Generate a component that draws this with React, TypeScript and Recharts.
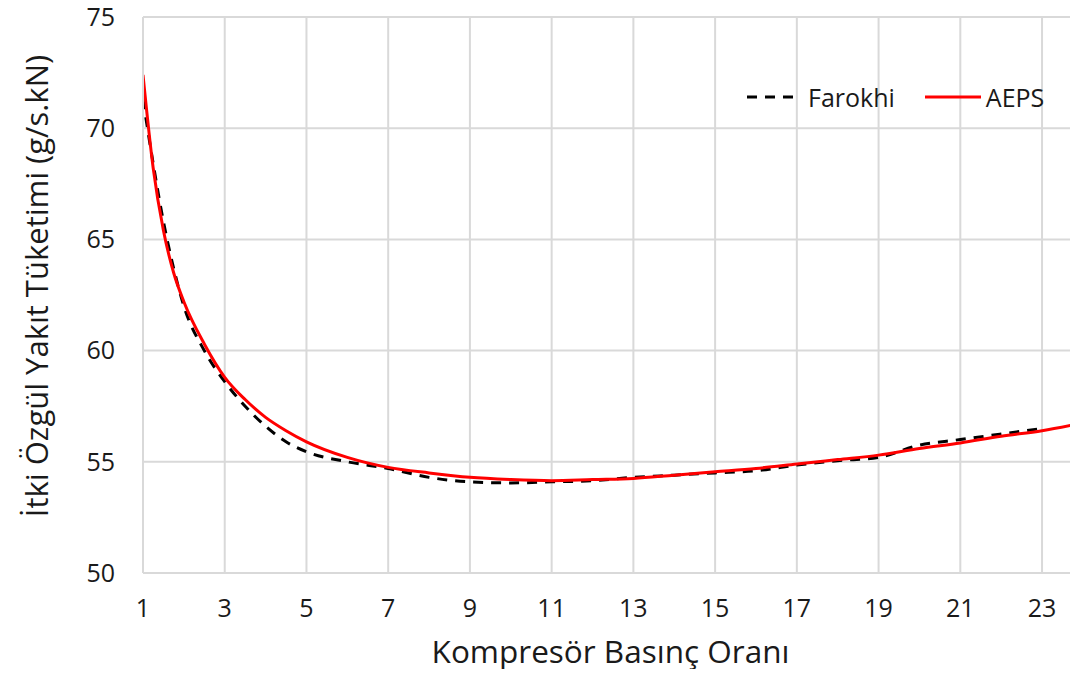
import React from "react";
import { LineChart, Line, XAxis, YAxis, CartesianGrid } from "recharts";

const aepsRatios = [1, 1.25, 1.5, 1.75, 2, 2.5, 3, 3.5, 4, 4.5, 5, 6, 7, 8, 9, 10, 11, 12, 13, 14, 15, 16, 17, 18, 19, 20, 21, 22, 23, 24];
const aepsValues = [72.4, 68.2, 65.4, 63.5, 62.2, 60.3, 58.8, 57.8, 57.0, 56.4, 55.9, 55.2, 54.75, 54.5, 54.3, 54.2, 54.15, 54.2, 54.25, 54.4, 54.55, 54.7, 54.9, 55.1, 55.3, 55.6, 55.85, 56.15, 56.4, 56.75];

const farokhiRatios = [1, 1.25, 1.5, 1.75, 2, 2.5, 3, 3.5, 4, 4.5, 5, 6, 7, 8, 9, 10, 11, 12, 13, 14, 15, 16, 17, 18, 19, 20, 21, 22, 23];
const farokhiValues = [71.3, 68.4, 65.8, 63.7, 62.0, 60.0, 58.6, 57.5, 56.6, 55.9, 55.45, 55.0, 54.7, 54.3, 54.1, 54.05, 54.1, 54.15, 54.3, 54.4, 54.5, 54.6, 54.85, 55.05, 55.2, 55.75, 56.0, 56.25, 56.5];

const xTicks = [1, 3, 5, 7, 9, 11, 13, 15, 17, 19, 21, 23];
const yTicks = [50, 55, 60, 65, 70, 75];

const seriesNames = ["Farokhi", "AEPS"];
const xTitle = "Kompresör Basınç Oranı";
const yTitle = "İtki Özgül Yakıt Tüketimi (g/s.kN)";

const aepsData = aepsRatios.map((x, i) => ({ x, y: aepsValues[i] }));
const farokhiData = farokhiRatios.map((x, i) => ({ x, y: farokhiValues[i] }));

const FONT = "'Open Sans', sans-serif";

const YTitle = () => (
  <text
    x={36}
    y={286}
    transform="rotate(-90, 36, 286)"
    textAnchor="middle"
    dominantBaseline="central"
    fill="#1a1a1a"
    fontSize={31}
    fontFamily={FONT}
  >
    {yTitle}
  </text>
);

const LegendBox = () => (
  <div style={{ position: "absolute", left: 745, top: 82, display: "flex", alignItems: "center", fontFamily: FONT, fontSize: 25, color: "#1a1a1a", lineHeight: "30px" }}>
    <svg width={58} height={10} style={{ marginRight: 5 }}>
      <line x1={2} y1={5} x2={56} y2={5} stroke="#000" strokeWidth={3} strokeDasharray="10 8" />
    </svg>
    <span style={{ marginRight: 30 }}>{seriesNames[0]}</span>
    <svg width={56} height={10} style={{ marginRight: 5 }}>
      <line x1={0} y1={5} x2={56} y2={5} stroke="#ff0000" strokeWidth={3} />
    </svg>
    <span>{seriesNames[1]}</span>
  </div>
);

export default function App() {
  return (
    <div style={{ margin: -8, width: 1078, height: 677, position: "relative", background: "#fff", overflow: "hidden" }}>
      <LineChart width={1078} height={677} margin={{ top: 17, right: 0, left: 0, bottom: 0 }}>
        <CartesianGrid stroke="#d9d9d9" strokeWidth={2} vertical horizontal />
        <XAxis
          type="number"
          dataKey="x"
          domain={[1, 23.88]}
          allowDataOverflow
          ticks={xTicks}
          height={104}
          stroke="#d9d9d9"
          strokeWidth={2}
          tickLine={false}
          tickSize={0}
          tickMargin={26}
          tick={{ fill: "#1a1a1a", fontSize: 25, fontFamily: FONT }}
          label={{ value: xTitle, position: "insideBottom", offset: 14, fill: "#1a1a1a", fontSize: 31.5, fontFamily: FONT }}
        />
        <YAxis
          type="number"
          domain={[50, 75]}
          ticks={yTicks}
          width={143}
          stroke="#d9d9d9"
          strokeWidth={2}
          tickLine={false}
          tickSize={20}
          tickMargin={8}
          tick={{ fill: "#1a1a1a", fontSize: 25, fontFamily: FONT }}
          label={<YTitle />}
        />
        <Line data={farokhiData} dataKey="y" name={seriesNames[0]} type="monotone" stroke="#000" strokeWidth={3} strokeDasharray="10 8" dot={false} isAnimationActive={false} />
        <Line data={aepsData} dataKey="y" name={seriesNames[1]} type="monotone" stroke="#ff0000" strokeWidth={3} dot={false} isAnimationActive={false} />
      </LineChart>
      <LegendBox />
      <div style={{ position: "absolute", left: 0, right: 0, top: 674, height: 2, background: "#d9d9d9" }} />
    </div>
  );
}
